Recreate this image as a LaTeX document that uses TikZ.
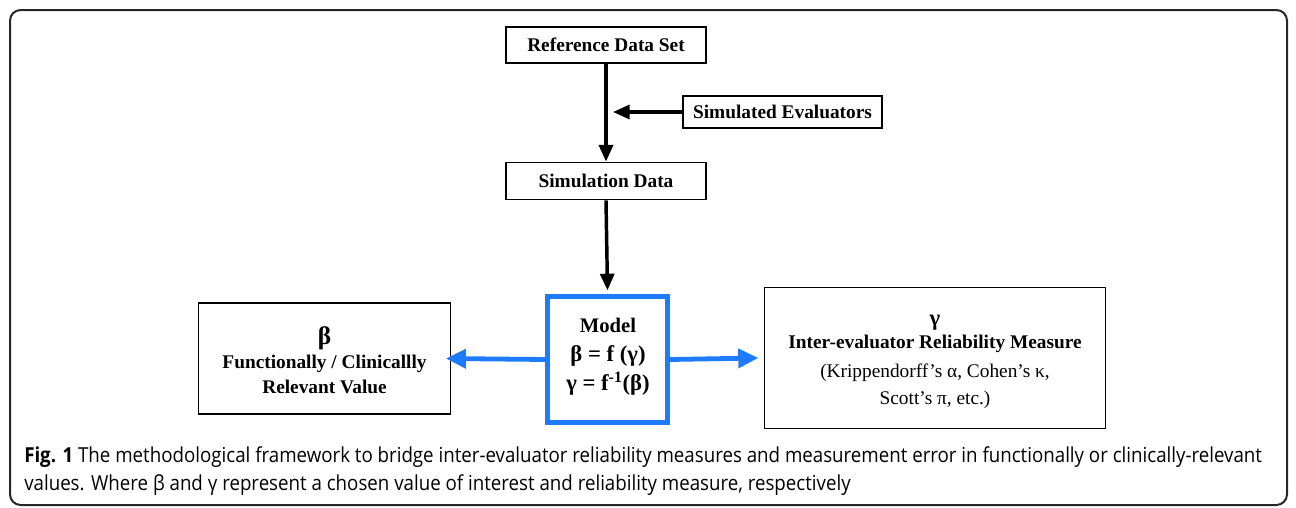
\documentclass[tikz,border=0pt]{standalone}
\usepackage{fontspec}
\setmainfont{Liberation Serif}
\newfontfamily\capfont[FakeStretch=0.905]{Open Sans}
\usetikzlibrary{arrows.meta}
\definecolor{modelblue}{RGB}{30,122,255}
\begin{document}
\begin{tikzpicture}[x=0.75pt,y=-0.75pt,
  box/.style={draw=black,line width=1.1pt,inner sep=0pt,align=center,font=\fontsize{14.5}{17}\selectfont\bfseries},
  frame/.style={draw=black,line width=1.1pt,inner sep=0pt},
  boxtext/.style={inner sep=0pt,align=center,font=\fontsize{14.5}{17}\selectfont\bfseries},
  flow/.style={line width=2.6pt,-{Triangle[length=12.5pt,width=10.5pt]}},
  bflow/.style={draw=modelblue,line width=3.6pt,-{Triangle[length=15pt,width=14pt]}},
  capline/.style={anchor=base west,inner sep=0pt,font=\capfont\fontsize{15.5}{17}\selectfont}]
\useasboundingbox (0,0) rectangle (1296,507);
% outer figure frame
\draw[line width=1.5pt,rounded corners=8pt,black!85] (10,10) rectangle (1287,505);

% top row of the flow
\node[box,minimum width=150pt,minimum height=27pt] (ref) at (606,45) {Reference Data Set};
\node[box,minimum width=149pt,minimum height=24pt] (simev) at (782.5,112) {Simulated Evaluators};
\node[box,minimum width=150pt,minimum height=28pt] (simdata) at (606,181) {Simulation Data};
\coordinate (join) at (613,112);

% model and its two outputs
\node[draw=modelblue,line width=3.7pt,minimum width=90pt,minimum height=94pt,inner sep=0pt] (model) at (607.5,359.5) {};
\node[align=center,inner sep=0pt,font=\bfseries\fontsize{17}{21.75}\selectfont] (modeltext) at (608,357) {%
  {\fontsize{15.5}{21.75}\selectfont Model}\\
  β = f (γ)\\
  γ = f\textsuperscript{-1}(β)};

\node[frame,minimum width=189pt,minimum height=83pt] (beta) at (324.5,358.5) {};
\node[boxtext] (betatext) at (324.5,360) {%
  {\fontsize{19}{20}\selectfont β}\\[1pt]
  Functionally / Clinicallly\\[2pt]
  Relevant Value};

\node[frame,minimum width=256pt,minimum height=106pt] (gamma) at (935,358) {};
\node[boxtext] (gammatext) at (935,362) {%
  {\fontsize{17}{18}\selectfont γ}\\[0pt]
  Inter-evaluator Reliability Measure\\[5pt]
  {\mdseries (Krippendorff’s α, Cohen’s κ,}\\[3pt]
  {\mdseries Scott’s π, etc.)}};

% connectors
\draw[flow] (ref.south) -- (simdata.north);
\draw[flow] (simev.west) -- (join);
\draw[flow] (simdata.south) -- ([yshift=3pt]model.north);
\draw[bflow] (model.west) -- ([xshift=-4pt]beta.east);
\draw[bflow] (model.east) -- ([xshift=-4pt]gamma.west);

% caption
\node[capline] (cap1) at (24,462) {\textbf{Fig. 1} The methodological framework to bridge inter-evaluator reliability measures and measurement error in functionally or clinically-relevant};
\node[capline] (cap2) at (24,490) {values. Where β and γ represent a chosen value of interest and reliability measure, respectively};
\end{tikzpicture}
\end{document}
